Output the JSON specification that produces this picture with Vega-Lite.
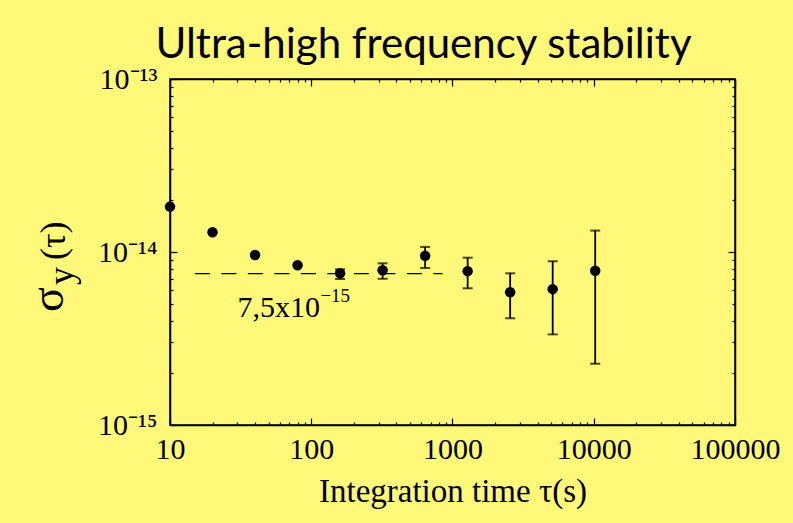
{
  "$schema": "https://vega.github.io/schema/vega-lite/v6.json",
  "width": 565,
  "height": 346,
  "autosize": "none",
  "padding": {"left": 170, "top": 79, "right": 58, "bottom": 98},
  "background": "#fff878",
  "config": {
    "view": {"stroke": "black", "strokeWidth": 1.5},
    "font": "Liberation Serif"
  },
  "title": {
    "text": "Ultra-high frequency stability",
    "font": "Lato",
    "fontSize": 42,
    "fontWeight": "normal",
    "color": "black",
    "anchor": "middle",
    "dx": -29,
    "dy": 55,
    "offset": 19,
    "baseline": "alphabetic"
  },
  "datasets": {
    "adev": [
      {"tau": 10, "sigma": 1.83e-14, "lo": null, "hi": null},
      {"tau": 20, "sigma": 1.30e-14, "lo": null, "hi": null},
      {"tau": 40, "sigma": 9.6e-15, "lo": null, "hi": null},
      {"tau": 80, "sigma": 8.38e-15, "lo": null, "hi": null},
      {"tau": 160, "sigma": 7.53e-15, "lo": 6.98e-15, "hi": 7.94e-15},
      {"tau": 320, "sigma": 7.85e-15, "lo": 7.0e-15, "hi": 8.6e-15},
      {"tau": 640, "sigma": 9.5e-15, "lo": 8.08e-15, "hi": 1.07e-14},
      {"tau": 1280, "sigma": 7.75e-15, "lo": 6.17e-15, "hi": 9.27e-15},
      {"tau": 2560, "sigma": 5.85e-15, "lo": 4.14e-15, "hi": 7.53e-15},
      {"tau": 5120, "sigma": 6.1e-15, "lo": 3.34e-15, "hi": 8.84e-15},
      {"tau": 10240, "sigma": 7.8e-15, "lo": 2.26e-15, "hi": 1.33e-14}
    ],
    "ref": [
      {"from": 15, "to": 850, "level": 7.5e-15, "label": "7,5x10", "power": "−15", "labelTau": 30}
    ],
    "ytitle": [
      {"sigma": "σ", "sub": "y", "arg": "(τ)", "tau": 10, "at": 1e-14}
    ]
  },
  "layer": [
    {
      "data": {"name": "adev"},
      "mark": {"type": "circle", "size": 110, "color": "black", "opacity": 1},
      "encoding": {
        "x": {
          "field": "tau", "type": "quantitative",
          "scale": {"type": "log", "domain": [10, 100000], "nice": false},
          "axis": {
            "orient": "bottom",
            "values": [10, 20, 30, 40, 50, 60, 70, 80, 90, 100, 200, 300, 400, 500, 600, 700, 800, 900, 1000, 2000, 3000, 4000, 5000, 6000, 7000, 8000, 9000, 10000, 20000, 30000, 40000, 50000, 60000, 70000, 80000, 90000, 100000],
            "format": "d",
            "labelExpr": "indexof([10,100,1000,10000,100000], datum.value) >= 0 ? datum.label : ''",
            "title": "Integration time τ(s)",
            "titleFont": "Liberation Serif",
            "titleFontSize": 33,
            "titleFontWeight": "normal",
            "titleColor": "black",
            "titlePadding": 7,
            "labelFont": "Liberation Serif",
            "labelFontSize": 30,
            "labelColor": "black",
            "labelPadding": 16,
            "labelFlush": false,
            "labelOverlap": false,
            "tickColor": "black",
            "tickWidth": 1.2,
            "tickSize": {"condition": {"test": "indexof([10,100,1000,10000,100000], datum.value) >= 0", "value": -7}, "value": -3},
            "domainColor": "black",
            "domainWidth": 1.5,
            "grid": false
          }
        },
        "y": {
          "field": "sigma", "type": "quantitative",
          "scale": {"type": "log", "domain": [1e-15, 1e-13], "nice": false},
          "axis": {
            "orient": "left",
            "values": [1e-15, 2e-15, 3e-15, 4e-15, 5e-15, 6e-15, 7e-15, 8e-15, 9e-15, 1e-14, 2e-14, 3e-14, 4e-14, 5e-14, 6e-14, 7e-14, 8e-14, 9e-14, 1e-13],
            "labelExpr": "abs(log(datum.value)/LN10 - round(log(datum.value)/LN10)) < 0.001 ? '10⁻¹' + ['⁵','⁴','³'][round(log(datum.value)/LN10) + 15] : ''",
            "title": null,
            "labelFont": "Liberation Serif",
            "labelFontSize": 30,
            "labelColor": "black",
            "labelPadding": 20,
            "labelFlush": false,
            "labelOverlap": false,
            "tickColor": "black",
            "tickWidth": 1.2,
            "tickSize": {"condition": {"test": "abs(log(datum.value)/LN10 - round(log(datum.value)/LN10)) < 0.001", "value": -7}, "value": -3},
            "domainColor": "black",
            "domainWidth": 1.5,
            "grid": false
          }
        }
      }
    },
    {
      "data": {"name": "adev"},
      "transform": [{"filter": "isValid(datum.lo)"}],
      "mark": {"type": "rule", "color": "black", "strokeWidth": 1.8},
      "encoding": {
        "x": {
          "field": "tau", "type": "quantitative",
          "scale": {"type": "log", "domain": [10, 100000], "nice": false},
          "axis": {
            "orient": "top",
            "values": [10, 20, 30, 40, 50, 60, 70, 80, 90, 100, 200, 300, 400, 500, 600, 700, 800, 900, 1000, 2000, 3000, 4000, 5000, 6000, 7000, 8000, 9000, 10000, 20000, 30000, 40000, 50000, 60000, 70000, 80000, 90000, 100000],
            "labels": false,
            "title": null,
            "tickColor": "black",
            "tickWidth": 1.2,
            "tickSize": {"condition": {"test": "indexof([10,100,1000,10000,100000], datum.value) >= 0", "value": -7}, "value": -3},
            "domainColor": "black",
            "domainWidth": 1.5,
            "grid": false
          }
        },
        "y": {
          "field": "lo", "type": "quantitative",
          "scale": {"type": "log", "domain": [1e-15, 1e-13], "nice": false},
          "axis": {
            "orient": "right",
            "values": [1e-15, 2e-15, 3e-15, 4e-15, 5e-15, 6e-15, 7e-15, 8e-15, 9e-15, 1e-14, 2e-14, 3e-14, 4e-14, 5e-14, 6e-14, 7e-14, 8e-14, 9e-14, 1e-13],
            "labels": false,
            "title": null,
            "tickColor": "black",
            "tickWidth": 1.2,
            "tickSize": {"condition": {"test": "abs(log(datum.value)/LN10 - round(log(datum.value)/LN10)) < 0.001", "value": -7}, "value": -3},
            "domainColor": "black",
            "domainWidth": 1.5,
            "grid": false
          }
        },
        "y2": {"field": "hi"}
      }
    },
    {
      "data": {"name": "adev"},
      "transform": [{"filter": "isValid(datum.lo)"}],
      "mark": {"type": "tick", "orient": "horizontal", "color": "black", "size": 10, "thickness": 2},
      "encoding": {
        "x": {"field": "tau", "type": "quantitative", "scale": {"type": "log", "domain": [10, 100000], "nice": false}, "axis": null},
        "y": {"field": "lo", "type": "quantitative", "scale": {"type": "log", "domain": [1e-15, 1e-13], "nice": false}, "axis": null}
      }
    },
    {
      "data": {"name": "adev"},
      "transform": [{"filter": "isValid(datum.hi)"}],
      "mark": {"type": "tick", "orient": "horizontal", "color": "black", "size": 10, "thickness": 2},
      "encoding": {
        "x": {"field": "tau", "type": "quantitative", "scale": {"type": "log", "domain": [10, 100000], "nice": false}, "axis": null},
        "y": {"field": "hi", "type": "quantitative", "scale": {"type": "log", "domain": [1e-15, 1e-13], "nice": false}, "axis": null}
      }
    },
    {
      "data": {"name": "ref"},
      "mark": {"type": "rule", "color": "black", "strokeWidth": 1.2, "strokeDash": [15, 11.5]},
      "encoding": {
        "x": {"field": "from", "type": "quantitative", "scale": {"type": "log", "domain": [10, 100000], "nice": false}, "axis": null},
        "x2": {"field": "to"},
        "y": {"field": "level", "type": "quantitative", "scale": {"type": "log", "domain": [1e-15, 1e-13], "nice": false}, "axis": null}
      }
    },
    {
      "data": {"name": "ref"},
      "mark": {"type": "text", "font": "Liberation Serif", "fontSize": 30, "color": "black", "align": "left", "baseline": "alphabetic", "dy": 43},
      "encoding": {
        "x": {"field": "labelTau", "type": "quantitative", "scale": {"type": "log", "domain": [10, 100000], "nice": false}, "axis": null},
        "y": {"field": "level", "type": "quantitative", "scale": {"type": "log", "domain": [1e-15, 1e-13], "nice": false}, "axis": null},
        "text": {"field": "label"}
      }
    },
    {
      "data": {"name": "ref"},
      "mark": {"type": "text", "font": "Liberation Serif", "fontSize": 19, "color": "black", "align": "left", "baseline": "alphabetic", "dx": 83, "dy": 28},
      "encoding": {
        "x": {"field": "labelTau", "type": "quantitative", "scale": {"type": "log", "domain": [10, 100000], "nice": false}, "axis": null},
        "y": {"field": "level", "type": "quantitative", "scale": {"type": "log", "domain": [1e-15, 1e-13], "nice": false}, "axis": null},
        "text": {"field": "power"}
      }
    },
    {
      "data": {"name": "ytitle"},
      "mark": {"type": "text", "font": "Liberation Serif", "fontSize": 46, "color": "black", "align": "left", "baseline": "alphabetic", "angle": 270, "dx": -60, "dy": -107},
      "encoding": {
        "x": {"field": "tau", "type": "quantitative", "scale": {"type": "log", "domain": [10, 100000], "nice": false}, "axis": null},
        "y": {"field": "at", "type": "quantitative", "scale": {"type": "log", "domain": [1e-15, 1e-13], "nice": false}, "axis": null},
        "text": {"field": "sigma"}
      }
    },
    {
      "data": {"name": "ytitle"},
      "mark": {"type": "text", "font": "Liberation Serif", "fontSize": 36, "color": "black", "align": "left", "baseline": "alphabetic", "angle": 270, "dx": -33, "dy": -97},
      "encoding": {
        "x": {"field": "tau", "type": "quantitative", "scale": {"type": "log", "domain": [10, 100000], "nice": false}, "axis": null},
        "y": {"field": "at", "type": "quantitative", "scale": {"type": "log", "domain": [1e-15, 1e-13], "nice": false}, "axis": null},
        "text": {"field": "sub"}
      }
    },
    {
      "data": {"name": "ytitle"},
      "mark": {"type": "text", "font": "Liberation Serif", "fontSize": 36, "color": "black", "align": "left", "baseline": "alphabetic", "angle": 270, "dx": -8, "dy": -105},
      "encoding": {
        "x": {"field": "tau", "type": "quantitative", "scale": {"type": "log", "domain": [10, 100000], "nice": false}, "axis": null},
        "y": {"field": "at", "type": "quantitative", "scale": {"type": "log", "domain": [1e-15, 1e-13], "nice": false}, "axis": null},
        "text": {"field": "arg"}
      }
    }
  ],
  "resolve": {"axis": {"x": "independent", "y": "independent"}}
}
